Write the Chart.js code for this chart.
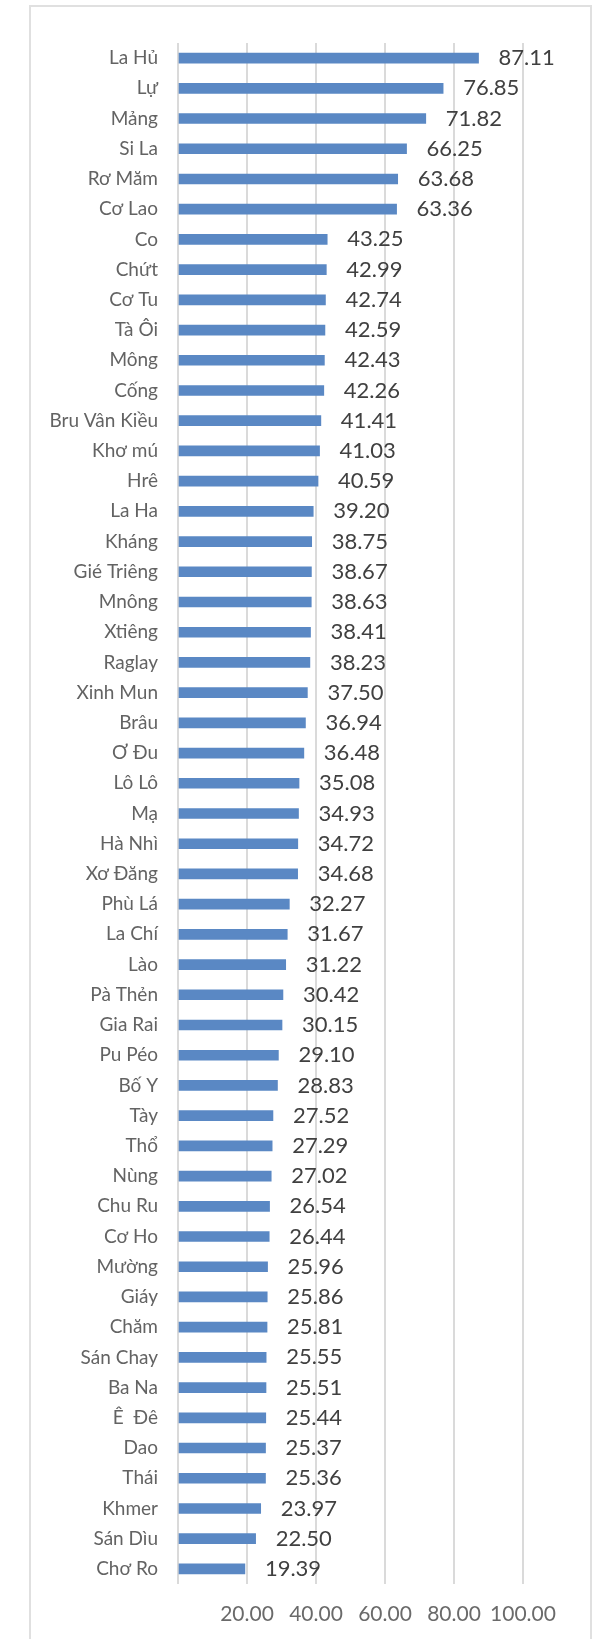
<!DOCTYPE html>
<html>
<head>
<meta charset="utf-8">
<script src="https://cdn.jsdelivr.net/npm/chart.js@4"></script>
<style>
  html, body { margin: 0; padding: 0; background: #ffffff; }
  #frame { position: absolute; left: 29px; top: 5px; width: 559px; height: 1700px; border: 2px solid #e0e0e0; box-sizing: content-box; }
  #c { position: absolute; left: 0; top: 0; }
</style>
</head>
<body>
<div id="frame"></div>
<canvas id="c" width="598" height="1639"></canvas>
<script>
const categories = ["La Hủ","Lự","Mảng","Si La","Rơ Măm","Cơ Lao","Co","Chứt","Cơ Tu","Tà Ôi","Mông","Cống","Bru Vân Kiều","Khơ mú","Hrê","La Ha","Kháng","Gié Triêng","Mnông","Xtiêng","Raglay","Xinh Mun","Brâu","Ơ Đu","Lô Lô","Mạ","Hà Nhì","Xơ Đăng","Phù Lá","La Chí","Lào","Pà Thẻn","Gia Rai","Pu Péo","Bố Y","Tày","Thổ","Nùng","Chu Ru","Cơ Ho","Mường","Giáy","Chăm","Sán Chay","Ba Na","Ê  Đê","Dao","Thái","Khmer","Sán Dìu","Chơ Ro"];
const values = [87.11,76.85,71.82,66.25,63.68,63.36,43.25,42.99,42.74,42.59,42.43,42.26,41.41,41.03,40.59,39.20,38.75,38.67,38.63,38.41,38.23,37.50,36.94,36.48,35.08,34.93,34.72,34.68,32.27,31.67,31.22,30.42,30.15,29.10,28.83,27.52,27.29,27.02,26.54,26.44,25.96,25.86,25.81,25.55,25.51,25.44,25.37,25.36,23.97,22.50,19.39];
const tickLabels = ["","20.00","40.00","60.00","80.00","100.00"];

const FONT = "Lato, 'Open Sans', sans-serif";

const valueLabels = {
  id: 'valueLabels',
  afterDatasetsDraw(chart) {
    const ctx = chart.ctx;
    const meta = chart.getDatasetMeta(0);
    ctx.save();
    ctx.font = "22px " + FONT;
    ctx.fillStyle = "#404040";
    ctx.textAlign = "left";
    ctx.textBaseline = "middle";
    meta.data.forEach((bar, i) => {
      ctx.fillText(values[i].toFixed(2), bar.x + 20, bar.y);
    });
    ctx.restore();
  }
};

new Chart(document.getElementById('c'), {
  type: 'bar',
  data: {
    labels: categories,
    datasets: [{
      data: values,
      backgroundColor: '#5a88c4',
      borderWidth: 0,
      barThickness: 10
    }]
  },
  options: {
    indexAxis: 'y',
    responsive: false,
    animation: false,
    devicePixelRatio: 1,
    layout: { padding: { top: 43, right: 75, bottom: 0, left: 0 } },
    plugins: { legend: { display: false }, tooltip: { enabled: false } },
    scales: {
      x: {
        min: 0, max: 100,
        ticks: {
          stepSize: 20,
          padding: 18,
          color: '#6a6a6a',
          font: { family: FONT, size: 21 },
          maxRotation: 0,
          minRotation: 0,
          autoSkip: false,
          callback: (v, i) => tickLabels[i]
        },
        grid: { color: '#dadada', lineWidth: 2, drawTicks: false },
        border: { display: false },
        afterFit(scale) { scale.height = 55; }
      },
      y: {
        ticks: {
          padding: 20,
          color: '#636363',
          font: { family: FONT, size: 19 },
          autoSkip: false
        },
        grid: { display: false, drawTicks: false },
        border: { display: false },
        afterFit(scale) { scale.width = 178; }
      }
    }
  },
  plugins: [valueLabels]
});
</script>
</body>
</html>
